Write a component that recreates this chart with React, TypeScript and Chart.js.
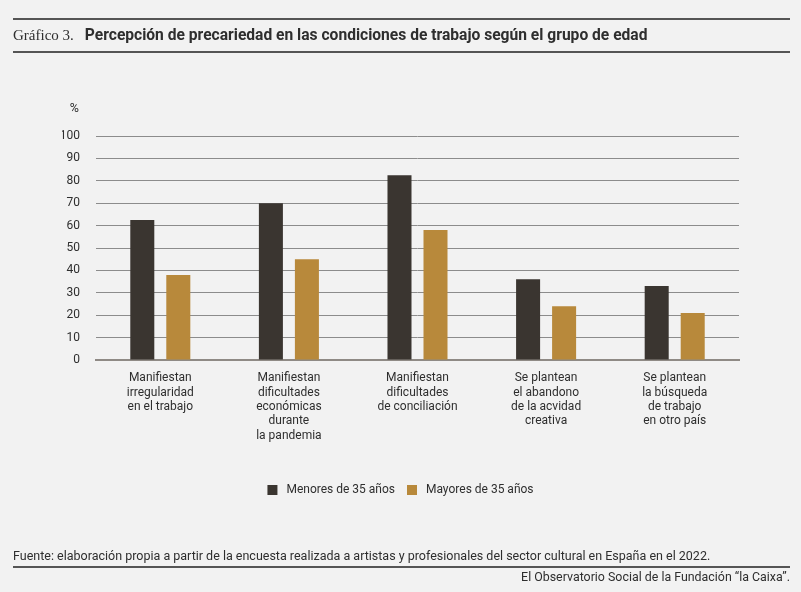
import React, { useEffect, useRef } from "react";
import Chart from "chart.js/auto";

const categories: string[][] = [
  ["Manifiestan", "irregularidad", "en el trabajo"],
  ["Manifiestan", "dificultades", "económicas", "durante", "la pandemia"],
  ["Manifiestan", "dificultades", "de conciliación"],
  ["Se plantean", "el abandono", "de la acvidad", "creativa"],
  ["Se plantean", "la búsqueda", "de trabajo", "en otro país"],
];
const menores35 = [62.5, 70, 82.5, 36, 33];
const mayores35 = [38, 45, 58, 24, 21];
const seriesNames = ["Menores de 35 años", "Mayores de 35 años"];

const FONT = "Roboto, 'Liberation Sans', sans-serif";
const TEXT = "#2e2e2e";

export default function App() {
  const canvasRef = useRef<HTMLCanvasElement | null>(null);

  useEffect(() => {
    if (!canvasRef.current) return;
    Chart.defaults.font.family = FONT;
    Chart.defaults.color = TEXT;

    const chart = new Chart(canvasRef.current, {
      type: "bar",
      data: {
        labels: categories,
        datasets: [
          {
            label: seriesNames[0],
            data: menores35,
            backgroundColor: "#3a3530",
          },
          {
            label: seriesNames[1],
            data: mayores35,
            backgroundColor: "#b8893b",
          },
        ],
      },
      options: {
        responsive: true,
        maintainAspectRatio: false,
        animation: false,
        datasets: {
          bar: { categoryPercentage: 0.56, barPercentage: 0.667 },
        },
        // left/right equal so the legend centres on the page
        layout: { padding: { top: 136, left: 62, right: 62, bottom: 86 } },
        plugins: {
          tooltip: { enabled: false },
          legend: {
            position: "bottom",
            labels: {
              boxWidth: 10,
              boxHeight: 10,
              padding: 12,
              font: { size: 12 },
              color: TEXT,
              generateLabels: (c) =>
                Chart.defaults.plugins.legend.labels
                  .generateLabels(c)
                  .map((l) => ({ ...l, text: " " + l.text })),
            },
          },
        },
        scales: {
          x: {
            grid: { display: false, drawTicks: false },
            border: { color: "#8f8a85", width: 2 },
            ticks: { padding: 11, font: { size: 12, lineHeight: 1.2 }, color: TEXT },
            afterFit: (scale) => {
              scale.height = 112;
            },
          },
          y: {
            min: 0,
            max: 100,
            ticks: { stepSize: 10, padding: 16, font: { size: 12 }, color: TEXT },
            grid: { color: "#8c8c8c", lineWidth: 1, drawTicks: false },
            border: { display: false },
            afterFit: (scale) => {
              scale.width = 34;
            },
          },
        },
      },
    });
    return () => chart.destroy();
  }, []);

  const line = (top: number): React.CSSProperties => ({
    position: "absolute",
    left: 13,
    width: 777,
    top,
    height: 2,
    background: "#555",
  });

  return (
    <div
      style={{
        position: "fixed",
        left: 0,
        top: 0,
        width: 801,
        height: 592,
        background: "#f2f2f2",
        overflow: "hidden",
        fontFamily: FONT,
        color: TEXT,
      }}
    >
      <div style={{ position: "absolute", inset: 0 }}>
        <canvas ref={canvasRef} />
      </div>
      <div style={line(18)} />
      <div
        style={{
          position: "absolute",
          left: 13,
          top: 25,
          height: 20,
          lineHeight: "20px",
          whiteSpace: "nowrap",
        }}
      >
        <span style={{ fontFamily: "'Liberation Serif', serif", fontSize: 15 }}>Gráfico 3.</span>
        <span style={{ fontWeight: 700, fontSize: 15.6, marginLeft: 11 }}>
          Percepción de precariedad en las condiciones de trabajo según el grupo de edad
        </span>
      </div>
      <div style={line(51)} />
      <div
        style={{
          position: "absolute",
          left: 59,
          width: 20,
          textAlign: "right",
          top: 101,
          fontSize: 12.5,
          lineHeight: "14px",
        }}
      >
        %
      </div>
      <div
        style={{
          position: "absolute",
          left: 13,
          top: 548,
          fontSize: 12.5,
          lineHeight: "16px",
          whiteSpace: "nowrap",
        }}
      >
        Fuente: elaboración propia a partir de la encuesta realizada a artistas y profesionales del sector cultural en España en el 2022.
      </div>
      <div style={line(566)} />
      <div
        style={{
          position: "absolute",
          right: 11,
          top: 569,
          fontSize: 12.4,
          lineHeight: "16px",
          whiteSpace: "nowrap",
        }}
      >
        El Observatorio Social de la Fundación “la Caixa”.
      </div>
    </div>
  );
}
